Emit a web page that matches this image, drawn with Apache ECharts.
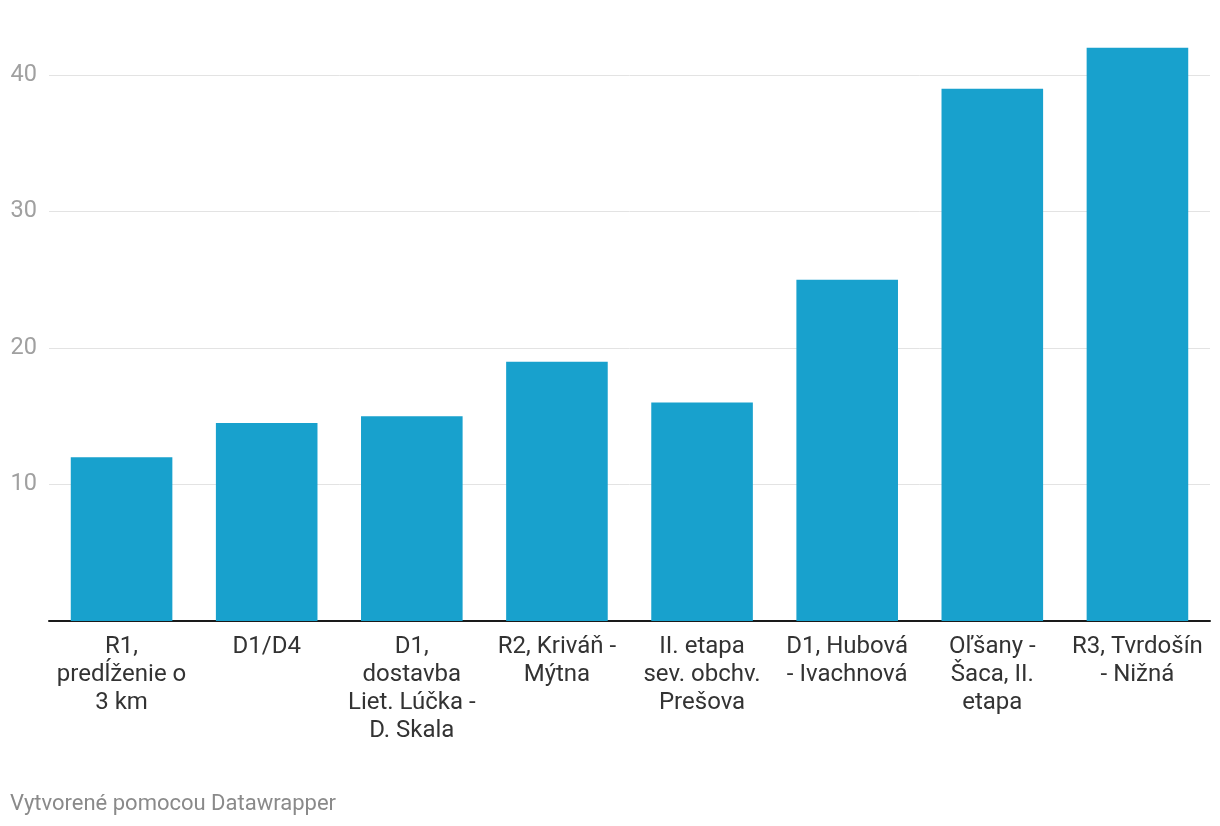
<!DOCTYPE html>
<html>
<head>
<meta charset="utf-8">
<script src="https://cdn.jsdelivr.net/npm/echarts@6/dist/echarts.min.js"></script>
<style>
html,body{margin:0;padding:0;background:#fff;}
#chart{width:1220px;height:826px;}
</style>
</head>
<body>
<div id="chart"></div>
<script>
const categories = [
  "R1,\npredĺženie o\n3 km",
  "D1/D4",
  "D1,\ndostavba\nLiet. Lúčka -\nD. Skala",
  "R2, Kriváň -\nMýtna",
  "II. etapa\nsev. obchv.\nPrešova",
  "D1, Hubová\n- Ivachnová",
  "Oľšany -\nŠaca, II.\netapa",
  "R3, Tvrdošín\n- Nižná"
];
const values = [12, 14.5, 15, 19, 16, 25, 39, 42];
const yTicks = [10, 20, 30, 40];
const footer = "Vytvorené pomocou Datawrapper";

const chart = echarts.init(document.getElementById('chart'));
chart.setOption({
  animation: false,
  backgroundColor: '#ffffff',
  textStyle: { fontFamily: 'Roboto' },
  title: {
    text: footer,
    left: 10,
    top: 791,
    padding: 0,
    textStyle: { fontFamily: 'Roboto', fontSize: 22, fontWeight: 'normal', color: '#8a8a8a', lineHeight: 26 }
  },
  grid: { left: 49, right: 10, top: 20.4, bottom: 205, containLabel: false },
  xAxis: {
    type: 'category',
    data: categories,
    axisLine: { show: true, lineStyle: { color: '#1a1a1a', width: 2 } },
    axisTick: { show: false },
    axisLabel: {
      interval: 0,
      margin: 12,
      fontFamily: 'Roboto',
      fontSize: 24,
      lineHeight: 28,
      color: '#333333',
      align: 'center',
      verticalAlign: 'top'
    }
  },
  yAxis: {
    type: 'value',
    min: 0,
    max: 44,
    interval: 10,
    axisLine: { show: false },
    axisTick: { show: false },
    axisLabel: {
      margin: 12,
      fontFamily: 'Roboto',
      fontSize: 23.5,
      color: '#a0a0a0',
      showMinLabel: false,
      showMaxLabel: false,
      padding: [3, 0, 0, 0],
      formatter: v => yTicks.includes(v) ? String(v) : ''
    },
    splitLine: { show: true, showMinLine: false, showMaxLine: false, lineStyle: { color: '#e3e3e3', width: 1 } }
  },
  series: [{
    type: 'bar',
    data: values,
    barWidth: '70%',
    itemStyle: { color: '#18a1cd' },
    z: 3
  }]
});
</script>
</body>
</html>
